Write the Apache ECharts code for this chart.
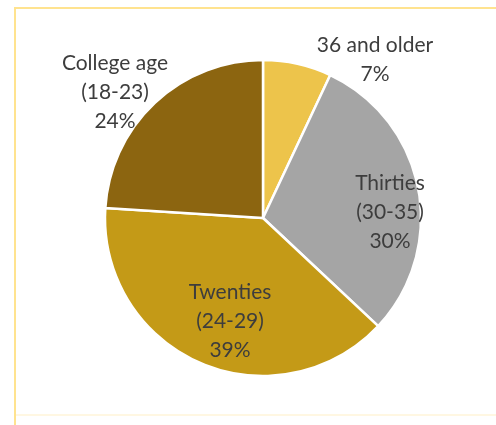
<!DOCTYPE html>
<html>
<head>
<meta charset="utf-8">
<title>Age groups</title>
<script src="https://cdn.jsdelivr.net/npm/echarts@6/dist/echarts.min.js"></script>
<style>
  html, body { margin: 0; padding: 0; background: #ffffff; }
  #chart { width: 496px; height: 425px; }
</style>
</head>
<body>
<div id="chart"></div>
<script>
// Age groups, clockwise from 12 o'clock
const categories = ['36 and older', 'Thirties\n(30-35)', 'Twenties\n(24-29)', 'College age\n(18-23)'];
const shares = [7, 30, 39, 24];

// Slice colours
const sliceColors = ['#EDC44B', '#A5A5A5', '#C49A17', '#8C6510'];

// Label anchors as pixel offsets from the pie centre
const labelOffsets = [[112, -158], [127, -6], [-33, 103], [-148, -126]];

const pieCenter = [263, 218];
const pieRadius = 158;

const chart = echarts.init(document.getElementById('chart'), null, { renderer: 'canvas' });

chart.setOption({
  backgroundColor: '#ffffff',
  animation: false,
  graphic: [
    { type: 'line', shape: { x1: 15, y1: 8, x2: 15, y2: 425 }, style: { stroke: '#FFE38F', lineWidth: 2 } },
    { type: 'line', shape: { x1: 14, y1: 8, x2: 496, y2: 8 }, style: { stroke: '#FFE38F', lineWidth: 2 } },
    { type: 'line', shape: { x1: 16, y1: 415, x2: 496, y2: 415 }, style: { stroke: '#FFF7E2', lineWidth: 2 } }
  ],
  series: [{
    type: 'pie',
    center: pieCenter,
    radius: pieRadius,
    startAngle: 90,
    clockwise: true,
    avoidLabelOverlap: false,
    itemStyle: { borderColor: '#ffffff', borderWidth: 2.5 },
    label: {
      show: true,
      position: 'inside',
      formatter: p => p.name + '\n' + p.value + '%',
      fontFamily: 'Lato, "Open Sans", sans-serif',
      fontSize: 21,
      lineHeight: 29,
      color: '#3d3d3d',
      align: 'center'
    },
    labelLine: { show: false },
    labelLayout: p => ({
      x: pieCenter[0] + labelOffsets[p.dataIndex][0],
      y: pieCenter[1] + labelOffsets[p.dataIndex][1],
      align: 'center',
      verticalAlign: 'middle'
    }),
    emphasis: { disabled: true },
    data: categories.map((name, i) => ({
      name: name,
      value: shares[i],
      itemStyle: { color: sliceColors[i] }
    }))
  }]
});
</script>
</body>
</html>
